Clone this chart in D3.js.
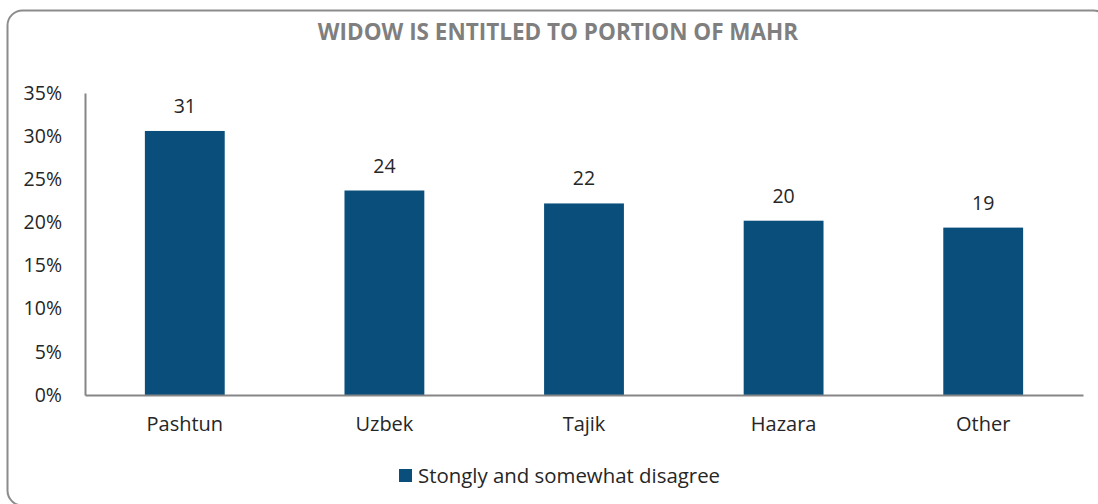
<!DOCTYPE html>
<html><head><meta charset="utf-8">
<script src="https://cdn.jsdelivr.net/npm/d3@7/dist/d3.min.js"></script>
<style>body{margin:0;background:#fff}svg{display:block}</style>
</head><body>
<svg id="c" width="1098" height="504"></svg>
<script>
const categories = ["Pashtun","Uzbek","Tajik","Hazara","Other"];
const values = [30.6, 23.7, 22.2, 20.2, 19.4];
const valueLabels = ["31","24","22","20","19"];
const yTicks = [0,5,10,15,20,25,30,35];
const title = "WIDOW IS ENTITLED TO PORTION OF MAHR";
const seriesName = "Stongly and somewhat disagree";

const svg = d3.select("#c");
const font = "'Open Sans', sans-serif";
const barColor = "#0a4f7c";
const axisColor = "#868686";
const textColor = "#262626";

svg.append("rect").attr("x",7.5).attr("y",10.5).attr("width",1101).attr("height",495)
  .attr("rx",15).attr("fill","#fff").attr("stroke","#8c8c8c").attr("stroke-width",2);

const x = d3.scaleBand().domain(categories).range([85,1083]).paddingInner(0.6).paddingOuter(0.3);
const y = d3.scaleLinear().domain([0,35]).range([395,93]);

svg.append("text").attr("x",558).attr("y",40).attr("text-anchor","middle")
  .attr("font-family",font).attr("font-weight","bold").attr("font-size",22.5)
  .attr("fill","#7f7f7f").text(title);

// y axis
const ya = svg.append("g").attr("transform","translate(85,0)")
  .call(d3.axisLeft(y).tickValues(yTicks).tickFormat(d=>d+"%").tickSize(0).tickPadding(23));
ya.select(".domain").attr("stroke",axisColor).attr("stroke-width",2);
ya.selectAll("text").attr("font-family",font).attr("font-size",19.5).attr("fill",textColor);

// bars
svg.append("g").selectAll("rect").data(values).join("rect")
  .attr("x",(d,i)=>x(categories[i])).attr("width",x.bandwidth())
  .attr("y",d=>y(d)).attr("height",d=>y(0)-y(d)).attr("fill",barColor);

// x axis
const xa = svg.append("g").attr("transform","translate(0,395)")
  .call(d3.axisBottom(x).tickSize(0).tickPadding(22));
xa.select(".domain").attr("stroke",axisColor).attr("stroke-width",2);
xa.selectAll("text").attr("font-family",font).attr("font-size",20).attr("fill",textColor);

// value labels
svg.append("g").selectAll("text").data(values).join("text")
  .attr("x",(d,i)=>x(categories[i])+x.bandwidth()/2).attr("y",d=>y(d)-18)
  .attr("text-anchor","middle").attr("font-family",font).attr("font-size",19.5)
  .attr("fill",textColor).text((d,i)=>valueLabels[i]);

// legend
svg.append("rect").attr("x",399).attr("y",469).attr("width",13).attr("height",13).attr("fill",barColor);
svg.append("text").attr("x",418).attr("y",483).attr("font-family",font).attr("font-size",20.4)
  .attr("fill",textColor).text(seriesName);
</script>
</body></html>
